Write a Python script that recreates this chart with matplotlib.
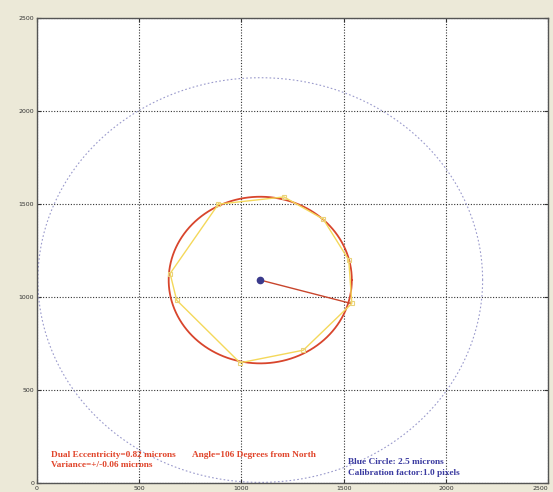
import numpy as np
import matplotlib
matplotlib.use("Agg")
import matplotlib.pyplot as plt

# measured points (pixels after calibration)
center_x, center_y = 1092, 1092
fit_radius = 448          # red best-fit circle
blue_radius = 1088        # 2.5 micron reference circle
tip_x, tip_y = 1530, 968  # end of eccentricity vector

poly_x = [887, 1208, 1400, 1525, 1540, 1303, 993, 683, 651, 887]
poly_y = [1500, 1539, 1420, 1200, 966, 715, 647, 984, 1127, 1500]

ticks = [0, 500, 1000, 1500, 2000, 2500]

fig = plt.figure(figsize=(5.53, 4.92), dpi=100, facecolor="#ECE9D8")
ax = fig.add_axes([0.067, 0.018, 0.924, 0.945])
ax.set_facecolor("white")

t = np.linspace(0, 2 * np.pi, 400)
ax.plot(center_x + blue_radius * np.cos(t), center_y + blue_radius * np.sin(t),
        linestyle=(0, (1.5, 2)), color="#9a9acc", lw=0.8)
ax.plot(center_x + fit_radius * np.cos(t), center_y + fit_radius * np.sin(t),
        color="#d8452c", lw=1.3)
ax.plot(poly_x, poly_y, color="#f4d85a", lw=1.0)
ax.plot(poly_x[:-1], poly_y[:-1], "s", ms=2.5, mfc="none", mec="#ead27a", mew=0.8)
ax.plot([center_x, tip_x], [center_y, tip_y], color="#c8452c", lw=1.0)
ax.plot(center_x, center_y, "o", color="#3a3a8c", ms=4.5)

ax.set_xlim(0, 2500)
ax.set_ylim(0, 2500)
ax.set_xticks(ticks)
ax.set_yticks(ticks)
ax.set_xticklabels([str(v) for v in ticks])
ax.set_yticklabels([str(v) for v in ticks])
ax.tick_params(direction="in", top=True, right=True, labelsize=4.5,
               length=3, width=0.8, pad=2, colors="#333333")
ax.get_xticklabels()[-1].set_horizontalalignment("right")
ax.grid(True, linestyle=(0, (1, 1.5)), color="#333333", lw=0.8)
for s in ax.spines.values():
    s.set_color("#555555")
    s.set_linewidth(1.0)

txt = dict(fontsize=6.7, fontweight="bold", family="Liberation Serif")
ax.text(67, 140, "Dual Eccentricity=0.82 microns", color="#e0442a", **txt)
ax.text(758, 140, "Angle=106 Degrees from North", color="#e0442a", **txt)
ax.text(67, 86, "Variance=+/-0.06 microns", color="#e0442a", **txt)
ax.text(1522, 102, "Blue Circle: 2.5 microns", color="#3a3aa0", **txt)
ax.text(1522, 43, "Calibration factor:1.0 pixels", color="#3a3aa0", **txt)

fig.savefig("out.png", dpi=100, facecolor=fig.get_facecolor())
